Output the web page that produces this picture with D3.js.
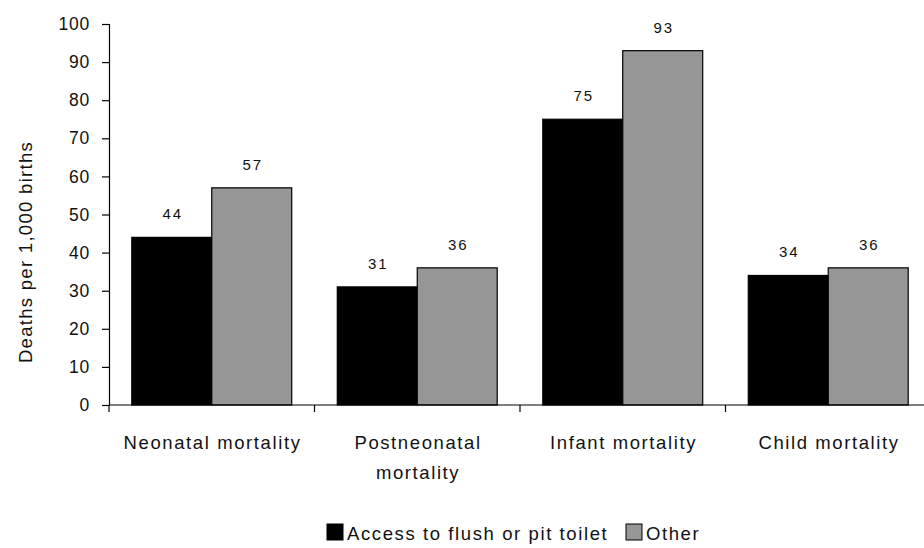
<!DOCTYPE html>
<html><head><meta charset="utf-8">
<script src="https://cdn.jsdelivr.net/npm/d3@7"></script>
<style>body{margin:0;background:#fff}svg{display:block;font-family:"Liberation Sans",Arial,sans-serif}</style>
</head><body><svg id="c" width="924" height="548"></svg>
<script>
const categories = [["Neonatal mortality"], ["Postneonatal", "mortality"], ["Infant mortality"], ["Child mortality"]];
const seriesNames = ["Access to flush or pit toilet", "Other"];
const flushValues = [44, 31, 75, 34];
const otherValues = [57, 36, 93, 36];
const yTicks = [0, 10, 20, 30, 40, 50, 60, 70, 80, 90, 100];
const colors = ["#000000", "#969696"];

const svg = d3.select("#c");
const pLeft = 109, pRight = 931, pTop = 24, pBottom = 405;
const x = d3.scaleBand().domain(d3.range(categories.length)).range([pLeft, pRight]).paddingInner(0).paddingOuter(0);
const y = d3.scaleLinear().domain([0, 100]).range([pBottom, pTop]);
const inner = d3.scaleBand().domain([0, 1]).range([0, x.bandwidth()]).paddingOuter(0.285).paddingInner(0);

const series = [flushValues, otherValues];
const valLs = 2;
series.forEach((vals, s) => {
  svg.append("g").selectAll("rect").data(vals).join("rect")
    .attr("x", (d, i) => x(i) + inner(s))
    .attr("y", d => y(d))
    .attr("width", inner.bandwidth())
    .attr("height", d => y(0) - y(d))
    .attr("fill", colors[s])
    .attr("stroke", "#000").attr("stroke-width", 1.2);
  svg.append("g").selectAll("text").data(vals).join("text")
    .attr("x", (d, i) => x(i) + inner(s) + inner.bandwidth() / 2 + valLs / 2)
    .attr("y", d => y(d) - 18)
    .attr("text-anchor", "middle").attr("font-size", 15).attr("letter-spacing", valLs)
    .attr("fill", "#111").text(d => d);
});

// y axis
const ya = svg.append("g").attr("transform", `translate(${pLeft},0)`)
  .call(d3.axisLeft(y).tickValues(yTicks).tickSize(7).tickPadding(12));
ya.select(".domain").attr("stroke", "#000").attr("stroke-width", 1.2);
ya.selectAll(".tick line").attr("stroke", "#000").attr("stroke-width", 1.2);
ya.selectAll(".tick text").attr("font-size", 17.5).attr("letter-spacing", 0.8).attr("fill", "#111")
  .attr("font-family", "Liberation Sans, Arial, sans-serif");

// x axis
svg.append("line").attr("x1", pLeft).attr("x2", pRight).attr("y1", pBottom).attr("y2", pBottom)
  .attr("stroke", "#000").attr("stroke-width", 1.2);
svg.append("g").selectAll("line").data(d3.range(categories.length + 1)).join("line")
  .attr("x1", i => pLeft + i * x.bandwidth()).attr("x2", i => pLeft + i * x.bandwidth())
  .attr("y1", pBottom).attr("y2", pBottom + 7).attr("stroke", "#000").attr("stroke-width", 1.2);
const catLs = 1.6;
const cl = svg.append("g").selectAll("text").data(categories).join("text")
  .attr("text-anchor", "middle").attr("font-size", 18.5).attr("fill", "#111").attr("letter-spacing", catLs);
cl.each(function(lines, i) {
  const t = d3.select(this);
  lines.forEach((ln, k) => {
    t.append("tspan").attr("x", x(i) + x.bandwidth() / 2 + catLs / 2).attr("y", 449 + k * 30).text(ln);
  });
});

// y title
svg.append("text").attr("transform", "translate(32,252) rotate(-90)")
  .attr("text-anchor", "middle").attr("font-size", 18.5).attr("letter-spacing", 1.3)
  .attr("fill", "#111").text("Deaths per 1,000 births");

// legend
const lg = svg.append("g");
const legendX = [327, 626];
seriesNames.forEach((n, s) => {
  lg.append("rect").attr("x", legendX[s]).attr("y", 524).attr("width", 16).attr("height", 16)
    .attr("fill", colors[s]).attr("stroke", "#000").attr("stroke-width", 1);
  lg.append("text").attr("x", legendX[s] + 20).attr("y", 540).attr("font-size", 18.5)
    .attr("letter-spacing", 1.6).attr("fill", "#111").text(n);
});
</script></body></html>
